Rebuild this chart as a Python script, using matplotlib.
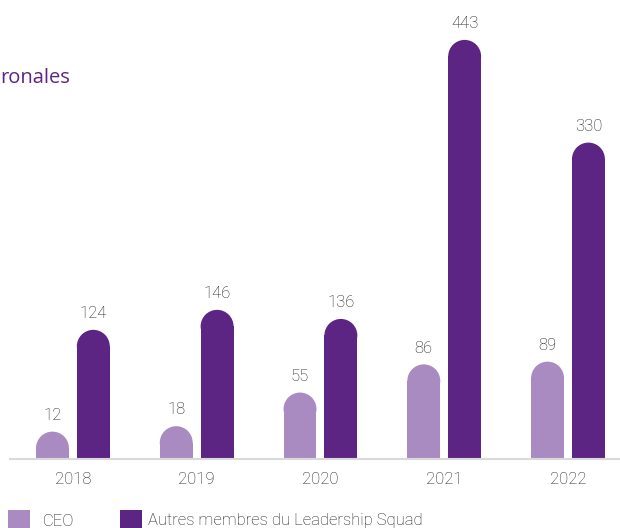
import matplotlib
matplotlib.use("Agg")
import matplotlib.pyplot as plt
import matplotlib.patches as mpatches
import numpy as np

years = ["2018", "2019", "2020", "2021", "2022"]
ceo = [12, 18, 55, 86, 89]
autres = [124, 146, 136, 443, 330]
series_names = ["CEO", "Autres membres du Leadership Squad"]
title_text = "ronales"

C_CEO = "#a98bc2"
C_AUT = "#5c2483"
TXT = "#1e1e1e"
NUM_FONT = ["Roboto", "DejaVu Sans"]
NUM_KW = dict(family=NUM_FONT, fontweight="light", fontstretch="condensed")

W, H = 620, 528
fig = plt.figure(figsize=(W / 100, H / 100), dpi=100)
ax_w, ax_h = 610, 459
ax = fig.add_axes([10 / W, 69 / H, ax_w / W, ax_h / H])
xlim = (-0.508, 4.42)
ylim = (0, 505)
ax.set_xlim(*xlim)
ax.set_ylim(*ylim)
ax.axis("off")

x = np.arange(len(years))
bw = 0.266
off = 0.165
# cap height in data units so the cap is a true semicircle on screen
px_x = ax_w / (xlim[1] - xlim[0])
px_y = ax_h / (ylim[1] - ylim[0])
cap_h = bw * px_x / px_y
r_pt = bw * px_x / 2 * 72 / 100

for vals, col, dx in [(ceo, C_CEO, -off), (autres, C_AUT, off)]:
    xs = x + dx
    ax.bar(xs, vals, width=bw, color=col, linewidth=0)
    for xi, v in zip(xs, vals):
        e = mpatches.Ellipse((xi, v), bw, cap_h, color=col, lw=0)
        e.set_clip_path(ax.patch)
        ax.add_patch(e)
        ax.annotate(str(v), (xi, v), xytext=(0, r_pt + 8.5), textcoords="offset points",
                    ha="center", va="baseline", fontsize=12, color=TXT, **NUM_KW)

# baseline
ax.axhline(0, color="#d9d9d9", lw=1.5, clip_on=False)

for xi, y in zip(x, years):
    ax.annotate(y, (xi, 0), xytext=(0, -9.5), textcoords="offset points", ha="center", va="top",
                fontsize=12, color=TXT, **NUM_KW)

# title (cut off)
fig.text(0, 1 - 78 / H, title_text, ha="left", va="center", fontsize=14.5, color=C_AUT,
         family=["Open Sans", "DejaVu Sans"], fontweight="medium")

# legend
fig.patches.append(mpatches.Rectangle((8 / W, 1 - 532 / H), 22 / W, 22 / H, transform=fig.transFigure,
                                      color=C_CEO, lw=0))
fig.text(43 / W, 1 - 521 / H, series_names[0], ha="left", va="center", fontsize=12, color=TXT, **NUM_KW)
fig.patches.append(mpatches.Rectangle((120 / W, 1 - 532 / H), 22 / W, 22 / H, transform=fig.transFigure,
                                      color=C_AUT, lw=0))
fig.text(148 / W, 1 - 521 / H, series_names[1], ha="left", va="center", fontsize=12, color=TXT, **NUM_KW)

fig.savefig("out.png", dpi=100)
